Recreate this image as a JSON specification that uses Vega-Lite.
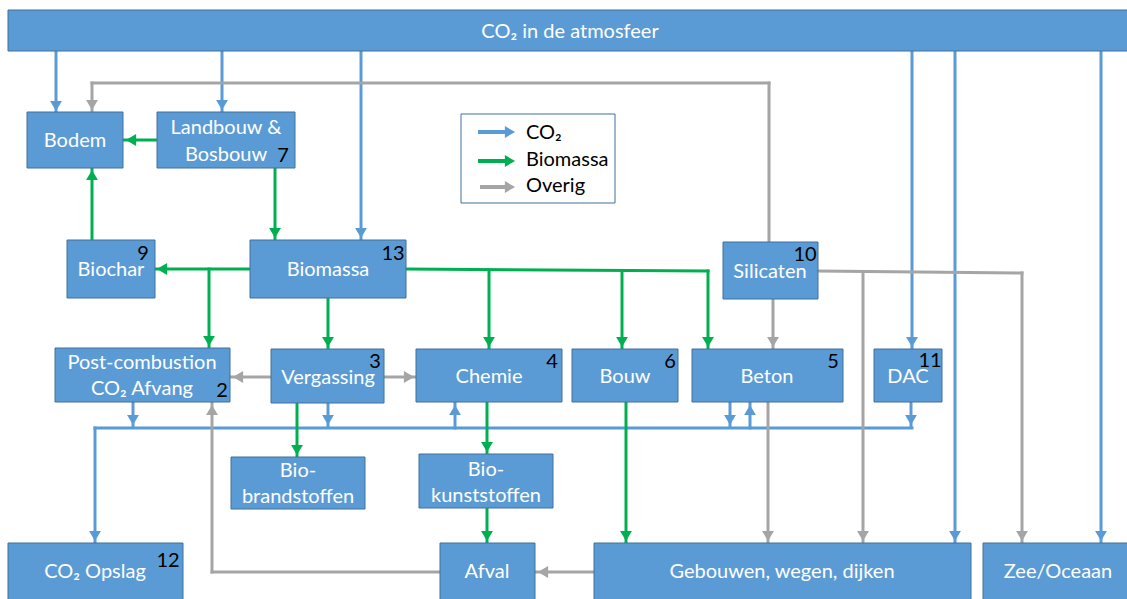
{
  "$schema": "https://vega.github.io/schema/vega-lite/v6.json",
  "width": 1127,
  "height": 599,
  "autosize": {"type": "fit", "contains": "padding"},
  "padding": 0,
  "background": "white",
  "config": {"view": {"stroke": null}},
  "datasets": {
    "boxes": [
      {"name": "atmosfeer", "x": 8, "x2": 1132, "y": 10, "y2": 51},
      {"name": "Bodem", "x": 27, "x2": 123, "y": 112, "y2": 168},
      {"name": "Landbouw", "x": 157, "x2": 295, "y": 112, "y2": 168},
      {"name": "Biochar", "x": 67, "x2": 155, "y": 240, "y2": 298},
      {"name": "Biomassa", "x": 250, "x2": 406, "y": 240, "y2": 298},
      {"name": "Silicaten", "x": 723, "x2": 818, "y": 242, "y2": 299},
      {"name": "Post-combustion", "x": 55, "x2": 230, "y": 348, "y2": 402},
      {"name": "Vergassing", "x": 271, "x2": 384, "y": 349, "y2": 403},
      {"name": "Chemie", "x": 416, "x2": 562, "y": 349, "y2": 402},
      {"name": "Bouw", "x": 572, "x2": 678, "y": 349, "y2": 402},
      {"name": "Beton", "x": 692, "x2": 843, "y": 349, "y2": 402},
      {"name": "DAC", "x": 874, "x2": 942, "y": 349, "y2": 402},
      {"name": "Bio-brandstoffen", "x": 231, "x2": 365, "y": 457, "y2": 509},
      {"name": "Bio-kunststoffen", "x": 419, "x2": 553, "y": 454, "y2": 508},
      {"name": "CO2 Opslag", "x": 8, "x2": 183, "y": 543, "y2": 604},
      {"name": "Afval", "x": 440, "x2": 535, "y": 543, "y2": 604},
      {"name": "Gebouwen", "x": 594, "x2": 971, "y": 543, "y2": 604},
      {"name": "Zee/Oceaan", "x": 983, "x2": 1132, "y": 543, "y2": 604}
    ],
    "legendBox": [{"x": 461, "x2": 615, "y": 114, "y2": 203}],
    "links": [
      {"x": 56, "y": 51, "x2": 56, "y2": 113, "type": "co2"},
      {"x": 222, "y": 51, "x2": 222, "y2": 112, "type": "co2"},
      {"x": 361, "y": 51, "x2": 361, "y2": 240, "type": "co2"},
      {"x": 912, "y": 51, "x2": 912, "y2": 349, "type": "co2"},
      {"x": 955, "y": 51, "x2": 955, "y2": 543, "type": "co2"},
      {"x": 1101, "y": 51, "x2": 1101, "y2": 543, "type": "co2"},
      {"x": 95, "y": 428, "x2": 912, "y2": 428, "type": "co2"},
      {"x": 95, "y": 428, "x2": 95, "y2": 543, "type": "co2"},
      {"x": 133, "y": 402, "x2": 133, "y2": 427, "type": "co2"},
      {"x": 328, "y": 403, "x2": 328, "y2": 427, "type": "co2"},
      {"x": 455, "y": 428, "x2": 455, "y2": 402, "type": "co2"},
      {"x": 730, "y": 402, "x2": 730, "y2": 427, "type": "co2"},
      {"x": 750, "y": 428, "x2": 750, "y2": 402, "type": "co2"},
      {"x": 911, "y": 402, "x2": 911, "y2": 427, "type": "co2"},
      {"x": 157, "y": 140, "x2": 124, "y2": 140, "type": "bio"},
      {"x": 275, "y": 168, "x2": 275, "y2": 240, "type": "bio"},
      {"x": 92, "y": 240, "x2": 92, "y2": 168, "type": "bio"},
      {"x": 250, "y": 269, "x2": 155, "y2": 269, "type": "bio"},
      {"x": 209, "y": 269, "x2": 209, "y2": 348, "type": "bio"},
      {"x": 328, "y": 298, "x2": 328, "y2": 349, "type": "bio"},
      {"x": 406, "y": 269, "x2": 708, "y2": 271, "type": "bio"},
      {"x": 489, "y": 270, "x2": 489, "y2": 349, "type": "bio"},
      {"x": 622, "y": 271, "x2": 622, "y2": 349, "type": "bio"},
      {"x": 708, "y": 271, "x2": 708, "y2": 349, "type": "bio"},
      {"x": 297, "y": 403, "x2": 297, "y2": 457, "type": "bio"},
      {"x": 487, "y": 402, "x2": 487, "y2": 454, "type": "bio"},
      {"x": 487, "y": 508, "x2": 487, "y2": 543, "type": "bio"},
      {"x": 626, "y": 402, "x2": 626, "y2": 543, "type": "bio"},
      {"x": 769, "y": 242, "x2": 769, "y2": 83, "type": "ov"},
      {"x": 769, "y": 83, "x2": 92, "y2": 83, "type": "ov"},
      {"x": 92, "y": 83, "x2": 92, "y2": 112, "type": "ov"},
      {"x": 271, "y": 377, "x2": 230, "y2": 377, "type": "ov"},
      {"x": 384, "y": 377, "x2": 416, "y2": 377, "type": "ov"},
      {"x": 773, "y": 299, "x2": 773, "y2": 349, "type": "ov"},
      {"x": 818, "y": 271, "x2": 1022, "y2": 273, "type": "ov"},
      {"x": 863, "y": 272, "x2": 863, "y2": 543, "type": "ov"},
      {"x": 1022, "y": 273, "x2": 1022, "y2": 543, "type": "ov"},
      {"x": 768, "y": 402, "x2": 768, "y2": 543, "type": "ov"},
      {"x": 594, "y": 572, "x2": 535, "y2": 572, "type": "ov"},
      {"x": 440, "y": 572, "x2": 212, "y2": 572, "type": "ov"},
      {"x": 212, "y": 572, "x2": 212, "y2": 402, "type": "ov"}
    ],
    "legendLinks": [
      {"x": 478, "y": 132, "x2": 510, "y2": 132, "type": "co2"},
      {"x": 478, "y": 161, "x2": 510, "y2": 161, "type": "bio"},
      {"x": 480, "y": 187, "x2": 510, "y2": 187, "type": "ov"}
    ],
    "heads": [
      {"x": 56, "y": 113, "dir": "down", "type": "co2"},
      {"x": 222, "y": 112, "dir": "down", "type": "co2"},
      {"x": 361, "y": 240, "dir": "down", "type": "co2"},
      {"x": 912, "y": 349, "dir": "down", "type": "co2"},
      {"x": 955, "y": 543, "dir": "down", "type": "co2"},
      {"x": 1101, "y": 543, "dir": "down", "type": "co2"},
      {"x": 95, "y": 543, "dir": "down", "type": "co2"},
      {"x": 133, "y": 427, "dir": "down", "type": "co2"},
      {"x": 328, "y": 427, "dir": "down", "type": "co2"},
      {"x": 455, "y": 403, "dir": "up", "type": "co2"},
      {"x": 730, "y": 427, "dir": "down", "type": "co2"},
      {"x": 750, "y": 403, "dir": "up", "type": "co2"},
      {"x": 911, "y": 427, "dir": "down", "type": "co2"},
      {"x": 124, "y": 140, "dir": "left", "type": "bio"},
      {"x": 275, "y": 240, "dir": "down", "type": "bio"},
      {"x": 92, "y": 168, "dir": "up", "type": "bio"},
      {"x": 155, "y": 269, "dir": "left", "type": "bio"},
      {"x": 209, "y": 348, "dir": "down", "type": "bio"},
      {"x": 328, "y": 349, "dir": "down", "type": "bio"},
      {"x": 489, "y": 349, "dir": "down", "type": "bio"},
      {"x": 622, "y": 349, "dir": "down", "type": "bio"},
      {"x": 708, "y": 349, "dir": "down", "type": "bio"},
      {"x": 297, "y": 457, "dir": "down", "type": "bio"},
      {"x": 487, "y": 454, "dir": "down", "type": "bio"},
      {"x": 487, "y": 543, "dir": "down", "type": "bio"},
      {"x": 626, "y": 543, "dir": "down", "type": "bio"},
      {"x": 92, "y": 112, "dir": "down", "type": "ov"},
      {"x": 231, "y": 377, "dir": "left", "type": "ov"},
      {"x": 416, "y": 377, "dir": "right", "type": "ov"},
      {"x": 773, "y": 349, "dir": "down", "type": "ov"},
      {"x": 863, "y": 543, "dir": "down", "type": "ov"},
      {"x": 1022, "y": 543, "dir": "down", "type": "ov"},
      {"x": 768, "y": 543, "dir": "down", "type": "ov"},
      {"x": 536, "y": 572, "dir": "left", "type": "ov"},
      {"x": 212, "y": 403, "dir": "up", "type": "ov"},
      {"x": 517, "y": 132, "dir": "right", "type": "co2"},
      {"x": 517, "y": 161, "dir": "right", "type": "bio"},
      {"x": 517, "y": 187, "dir": "right", "type": "ov"}
    ],
    "labels": [
      {"x": 570, "y": 32, "text": "CO₂ in de atmosfeer"},
      {"x": 75, "y": 141, "text": "Bodem"},
      {"x": 226, "y": 128, "text": "Landbouw &"},
      {"x": 226, "y": 155, "text": "Bosbouw"},
      {"x": 111, "y": 270, "text": "Biochar"},
      {"x": 328, "y": 270, "text": "Biomassa"},
      {"x": 770, "y": 272, "text": "Silicaten"},
      {"x": 142, "y": 363, "text": "Post-combustion"},
      {"x": 142, "y": 389, "text": "CO₂ Afvang"},
      {"x": 328, "y": 378, "text": "Vergassing"},
      {"x": 489, "y": 377, "text": "Chemie"},
      {"x": 625, "y": 377, "text": "Bouw"},
      {"x": 767, "y": 377, "text": "Beton"},
      {"x": 908, "y": 377, "text": "DAC"},
      {"x": 298, "y": 471, "text": "Bio-"},
      {"x": 298, "y": 497, "text": "brandstoffen"},
      {"x": 486, "y": 470, "text": "Bio-"},
      {"x": 486, "y": 496, "text": "kunststoffen"},
      {"x": 95, "y": 572, "text": "CO₂ Opslag"},
      {"x": 487, "y": 572, "text": "Afval"},
      {"x": 782, "y": 572, "text": "Gebouwen, wegen, dijken"},
      {"x": 1058, "y": 572, "text": "Zee/Oceaan"}
    ],
    "numbers": [
      {"x": 283, "y": 156, "text": "7"},
      {"x": 143, "y": 254, "text": "9"},
      {"x": 393, "y": 254, "text": "13"},
      {"x": 222, "y": 391, "text": "2"},
      {"x": 375, "y": 362, "text": "3"},
      {"x": 552, "y": 362, "text": "4"},
      {"x": 670, "y": 362, "text": "6"},
      {"x": 833, "y": 362, "text": "5"},
      {"x": 805, "y": 255, "text": "10"},
      {"x": 930, "y": 361, "text": "11"},
      {"x": 168, "y": 561, "text": "12"}
    ],
    "legendText": [
      {"x": 526, "y": 133, "text": "CO₂"},
      {"x": 526, "y": 160, "text": "Biomassa"},
      {"x": 526, "y": 186, "text": "Overig"}
    ]
  },
  "layer": [
    {
      "data": {"name": "links"},
      "mark": {"type": "rule", "strokeWidth": 3, "strokeCap": "square"},
      "encoding": {
        "x": {"field": "x", "type": "quantitative", "scale": {"domain": [0, 1127], "nice": false, "zero": false}, "axis": null},
        "y": {"field": "y", "type": "quantitative", "scale": {"domain": [0, 599], "nice": false, "zero": false, "reverse": true}, "axis": null},
        "x2": {"field": "x2"},
        "y2": {"field": "y2"},
        "color": {"field": "type", "type": "nominal", "scale": {"domain": ["co2", "bio", "ov"], "range": ["#5B9BD5", "#00B050", "#A5A5A5"]}, "legend": null}
      }
    },
    {
      "data": {"name": "boxes"},
      "mark": {"type": "rect", "fill": "#5B9BD5", "stroke": "#41719C", "strokeWidth": 1, "clip": true},
      "encoding": {
        "x": {"field": "x", "type": "quantitative"},
        "x2": {"field": "x2"},
        "y": {"field": "y", "type": "quantitative"},
        "y2": {"field": "y2"}
      }
    },
    {
      "data": {"name": "legendBox"},
      "mark": {"type": "rect", "fill": "white", "stroke": "#41719C", "strokeWidth": 1},
      "encoding": {
        "x": {"field": "x", "type": "quantitative"},
        "x2": {"field": "x2"},
        "y": {"field": "y", "type": "quantitative"},
        "y2": {"field": "y2"}
      }
    },
    {
      "data": {"name": "legendLinks"},
      "mark": {"type": "rule", "strokeWidth": 4},
      "encoding": {
        "x": {"field": "x", "type": "quantitative"},
        "y": {"field": "y", "type": "quantitative"},
        "x2": {"field": "x2"},
        "y2": {"field": "y2"},
        "color": {"field": "type", "type": "nominal", "legend": null}
      }
    },
    {
      "data": {"name": "heads"},
      "transform": [{"filter": "datum.dir === 'down'"}],
      "mark": {"type": "point", "shape": "triangle-down", "filled": true, "opacity": 1, "size": 140, "yOffset": -7},
      "encoding": {
        "x": {"field": "x", "type": "quantitative"},
        "y": {"field": "y", "type": "quantitative"},
        "color": {"field": "type", "type": "nominal", "legend": null}
      }
    },
    {
      "data": {"name": "heads"},
      "transform": [{"filter": "datum.dir === 'up'"}],
      "mark": {"type": "point", "shape": "triangle-up", "filled": true, "opacity": 1, "size": 140, "yOffset": 7},
      "encoding": {
        "x": {"field": "x", "type": "quantitative"},
        "y": {"field": "y", "type": "quantitative"},
        "color": {"field": "type", "type": "nominal", "legend": null}
      }
    },
    {
      "data": {"name": "heads"},
      "transform": [{"filter": "datum.dir === 'left'"}],
      "mark": {"type": "point", "shape": "triangle-left", "filled": true, "opacity": 1, "size": 140, "xOffset": 7},
      "encoding": {
        "x": {"field": "x", "type": "quantitative"},
        "y": {"field": "y", "type": "quantitative"},
        "color": {"field": "type", "type": "nominal", "legend": null}
      }
    },
    {
      "data": {"name": "heads"},
      "transform": [{"filter": "datum.dir === 'right'"}],
      "mark": {"type": "point", "shape": "triangle-right", "filled": true, "opacity": 1, "size": 140, "xOffset": -7},
      "encoding": {
        "x": {"field": "x", "type": "quantitative"},
        "y": {"field": "y", "type": "quantitative"},
        "color": {"field": "type", "type": "nominal", "legend": null}
      }
    },
    {
      "data": {"name": "labels"},
      "mark": {"type": "text", "font": "Lato", "fontSize": 20, "color": "white", "align": "center", "baseline": "middle"},
      "encoding": {
        "x": {"field": "x", "type": "quantitative"},
        "y": {"field": "y", "type": "quantitative"},
        "text": {"field": "text"}
      }
    },
    {
      "data": {"name": "numbers"},
      "mark": {"type": "text", "font": "Lato", "fontSize": 20, "color": "black", "align": "center", "baseline": "middle"},
      "encoding": {
        "x": {"field": "x", "type": "quantitative"},
        "y": {"field": "y", "type": "quantitative"},
        "text": {"field": "text"}
      }
    },
    {
      "data": {"name": "legendText"},
      "mark": {"type": "text", "font": "Lato", "fontSize": 20, "color": "black", "align": "left", "baseline": "middle"},
      "encoding": {
        "x": {"field": "x", "type": "quantitative"},
        "y": {"field": "y", "type": "quantitative"},
        "text": {"field": "text"}
      }
    }
  ]
}
